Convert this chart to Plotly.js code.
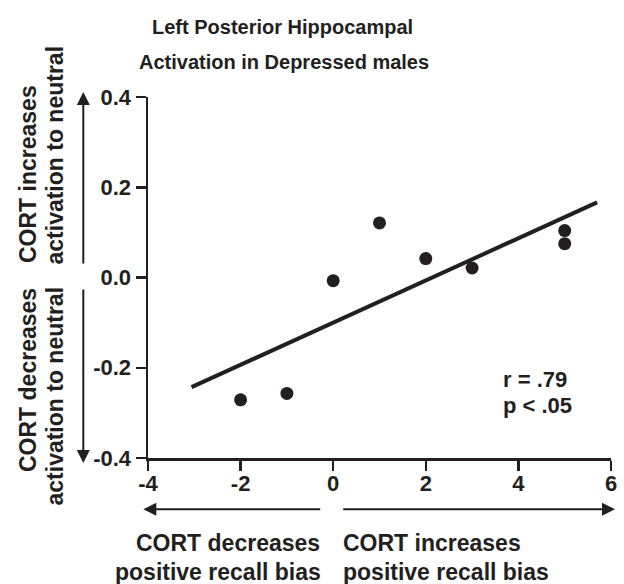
<!DOCTYPE html>
<html>
<head>
<meta charset="utf-8">
<script src="https://cdn.plot.ly/plotly-3.0.1.min.js"></script>
<style>html,body{margin:0;padding:0;background:#fff;}#chart{width:624px;height:584px;}</style>
</head>
<body>
<div id="chart"></div>
<script>
// Data
const recallBias = [-2, -1, 0, 1, 2, 3, 5, 5];
const activation = [-0.271, -0.257, -0.007, 0.121, 0.042, 0.021, 0.104, 0.075];
const fitX = [-3.06, 5.70];
const fitY = [-0.243, 0.1665];
const xTicks = [-4, -2, 0, 2, 4, 6];
const yTicks = [-0.4, -0.2, 0.0, 0.2, 0.4];
const titleLines = ["Left Posterior Hippocampal", "Activation in Depressed males"];
const statLines = ["r = .79", "p < .05"];
const yLabelUp = ["CORT increases", "activation to neutral"];
const yLabelDown = ["CORT decreases", "activation to neutral"];
const xLabelLeft = ["CORT decreases", "positive recall bias"];
const xLabelRight = ["CORT increases", "positive recall bias"];

const W = 624, H = 584;
const M = {l: 148, r: 13, t: 97, b: 126};
const PW = W - M.l - M.r, PH = H - M.t - M.b;
const px = v => (v - M.l) / PW;
const py = v => (H - M.b - v) / PH;

const INK = '#231f20';
const FAM = 'Liberation Sans, Arial, Helvetica, sans-serif';
const f = s => ({family: FAM, size: s, color: INK, weight: 'bold'});

const traces = [
  {x: fitX, y: fitY, mode: 'lines', line: {color: INK, width: 4}, hoverinfo: 'skip', showlegend: false},
  {x: recallBias, y: activation, mode: 'markers', marker: {color: INK, size: 13}, showlegend: false}
];

function txt(text, x, y, xa, ya, size, angle) {
  return {text: text, xref: 'paper', yref: 'paper', x: px(x), y: py(y), xanchor: xa, yanchor: ya,
    showarrow: false, font: f(size), textangle: angle || 0};
}
function arr(tipX, tipY, tailX, tailY) {
  return {text: '', xref: 'paper', yref: 'paper', x: px(tipX), y: py(tipY), ax: tailX - tipX, ay: tailY - tipY,
    showarrow: true, arrowhead: 2, arrowsize: 1.3, arrowwidth: 2, arrowcolor: INK};
}

const annotations = [
  txt(titleLines[0], 282, 27, 'center', 'middle', 20),
  txt(titleLines[1], 284, 62, 'center', 'middle', 20),
  txt(statLines[0], 501, 379, 'left', 'middle', 22),
  txt(statLines[1], 501, 405, 'left', 'middle', 22),
  txt(yLabelUp[0], 28, 174, 'center', 'middle', 23, -90),
  txt(yLabelUp[1], 54, 155.5, 'center', 'middle', 23, -90),
  txt(yLabelDown[0], 28, 380, 'center', 'middle', 23, -90),
  txt(yLabelDown[1], 54, 396.5, 'center', 'middle', 23, -90),
  txt(xLabelLeft[0], 322, 543, 'right', 'middle', 23),
  txt(xLabelLeft[1], 323, 572, 'right', 'middle', 23),
  txt(xLabelRight[0], 341, 543, 'left', 'middle', 23),
  txt(xLabelRight[1], 341, 572, 'left', 'middle', 23),
  arr(83.3, 92, 83.3, 265),
  arr(83.3, 463, 83.3, 288),
  arr(143.3, 509.3, 321.7, 509.3),
  arr(615, 509.3, 341.7, 509.3)
];

const axisCommon = {showgrid: false, zeroline: false, showline: true, linecolor: INK, linewidth: 2.5,
  ticks: 'outside', ticklen: 10, tickwidth: 2.5, tickcolor: INK, tickfont: f(22), fixedrange: true};

const layout = {
  width: W, height: H, margin: M, paper_bgcolor: '#fff', plot_bgcolor: '#fff', showlegend: false,
  xaxis: Object.assign({}, axisCommon, {range: [-4, 6], tickvals: xTicks, ticktext: xTicks.map(String), ticklabelstandoff: -6}),
  yaxis: Object.assign({}, axisCommon, {range: [-0.4, 0.4], tickvals: yTicks, ticktext: yTicks.map(v => v.toFixed(1))}),
  annotations: annotations
};

Plotly.newPlot('chart', traces, layout, {displayModeBar: false, staticPlot: true});
</script>
</body>
</html>
